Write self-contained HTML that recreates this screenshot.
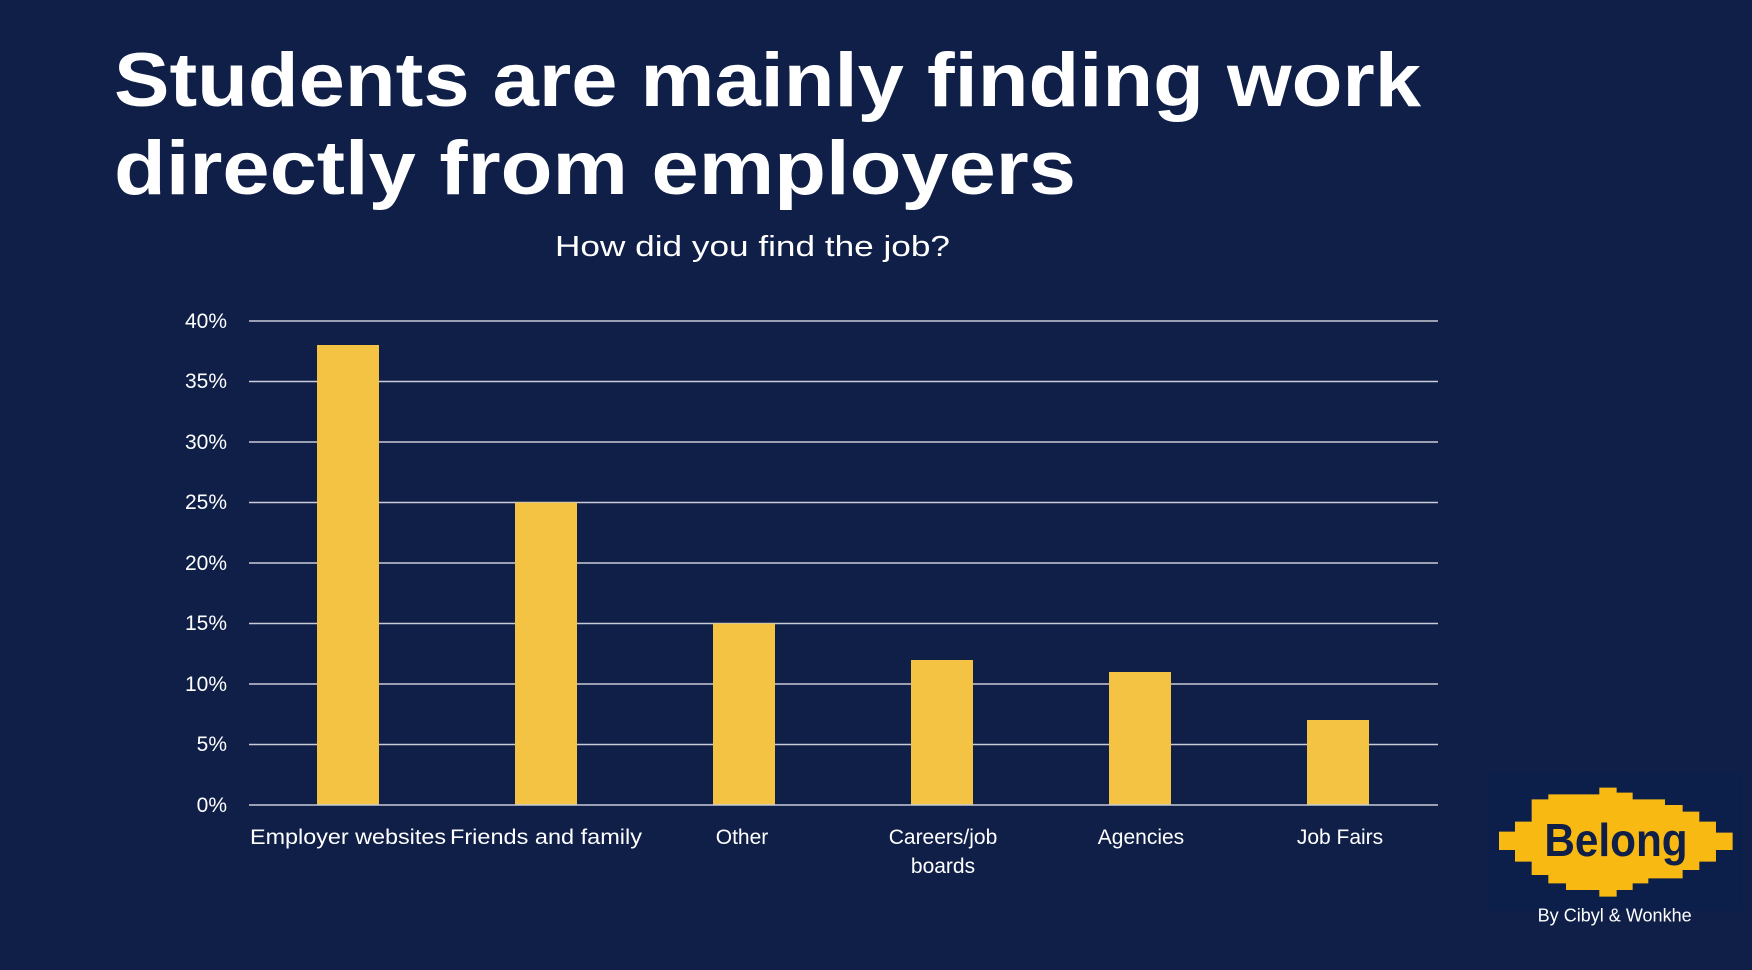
<!DOCTYPE html>
<html><head><meta charset="utf-8"><style>
html,body{margin:0;padding:0;background:#0f1f48;}
svg{display:block;}
text{font-family:"Liberation Sans",sans-serif;fill:#fff;}
</style></head><body>
<svg width="1752" height="970" viewBox="0 0 1752 970" xmlns="http://www.w3.org/2000/svg">
<rect width="1752" height="970" fill="#0f1f48"/>
<text x="114" y="106" font-size="76" font-weight="bold" textLength="1307" lengthAdjust="spacingAndGlyphs">Students are mainly finding work</text>
<text x="114" y="194" font-size="76" font-weight="bold" textLength="962" lengthAdjust="spacingAndGlyphs">directly from employers</text>
<text x="555" y="256" font-size="29" textLength="395" lengthAdjust="spacingAndGlyphs">How did you find the job?</text>
<g stroke="#c9ccd6" stroke-width="1.5">
<line x1="249" x2="1438" y1="321" y2="321"/>
<line x1="249" x2="1438" y1="381.5" y2="381.5"/>
<line x1="249" x2="1438" y1="442" y2="442"/>
<line x1="249" x2="1438" y1="502.5" y2="502.5"/>
<line x1="249" x2="1438" y1="563" y2="563"/>
<line x1="249" x2="1438" y1="623.5" y2="623.5"/>
<line x1="249" x2="1438" y1="684" y2="684"/>
<line x1="249" x2="1438" y1="744.5" y2="744.5"/>
</g>
<g font-size="21" text-anchor="end">
<text x="227" y="328">40%</text>
<text x="227" y="388">35%</text>
<text x="227" y="449">30%</text>
<text x="227" y="509">25%</text>
<text x="227" y="570">20%</text>
<text x="227" y="630">15%</text>
<text x="227" y="691">10%</text>
<text x="227" y="751">5%</text>
<text x="227" y="812">0%</text>
</g>
<g fill="#f4c343">
<rect x="317" y="345" width="62" height="460"/>
<rect x="515" y="502.5" width="62" height="302.5"/>
<rect x="713" y="623.5" width="62" height="181.5"/>
<rect x="911" y="660" width="62" height="145"/>
<rect x="1109" y="672" width="62" height="133"/>
<rect x="1307" y="720" width="62" height="85"/>
</g>
<line x1="249" x2="1438" y1="805" y2="805" stroke="#c9ccd6" stroke-width="1.5"/>
<g font-size="21" text-anchor="middle">
<text x="348" y="844" textLength="196" lengthAdjust="spacingAndGlyphs">Employer websites</text>
<text x="546" y="844" textLength="192" lengthAdjust="spacingAndGlyphs">Friends and family</text>
<text x="742" y="844">Other</text>
<text x="943" y="844">Careers/job</text>
<text x="943" y="873">boards</text>
<text x="1141" y="844">Agencies</text>
<text x="1340" y="844">Job Fairs</text>
</g>
<g transform="translate(1480,760) scale(0.3333)">
<rect x="24" y="40" width="762" height="412" fill="#0b1f4a"/>
<polygon fill="#f8b913" points="57,215 105,215 105,185 155,185 155,118 205,118 205,103 358,103 358,83 410,83 410,98 458,98 458,118 555,118 555,135 608,135 608,155 658,155 658,185 708,185 708,218 758,218 758,270 708,270 708,305 658,305 658,330 608,330 608,355 505,355 505,370 458,370 458,390 410,390 410,410 358,410 358,390 258,390 258,370 205,370 205,345 155,345 155,305 105,305 105,270 57,270"/>
<text x="408" y="288" font-size="138" font-weight="bold" text-anchor="middle" style="fill:#0f1f48" textLength="430" lengthAdjust="spacingAndGlyphs">Belong</text>
<text x="404" y="484" font-size="56" text-anchor="middle" textLength="462" lengthAdjust="spacingAndGlyphs">By Cibyl &amp; Wonkhe</text>
</g>
</svg>
</body></html>
